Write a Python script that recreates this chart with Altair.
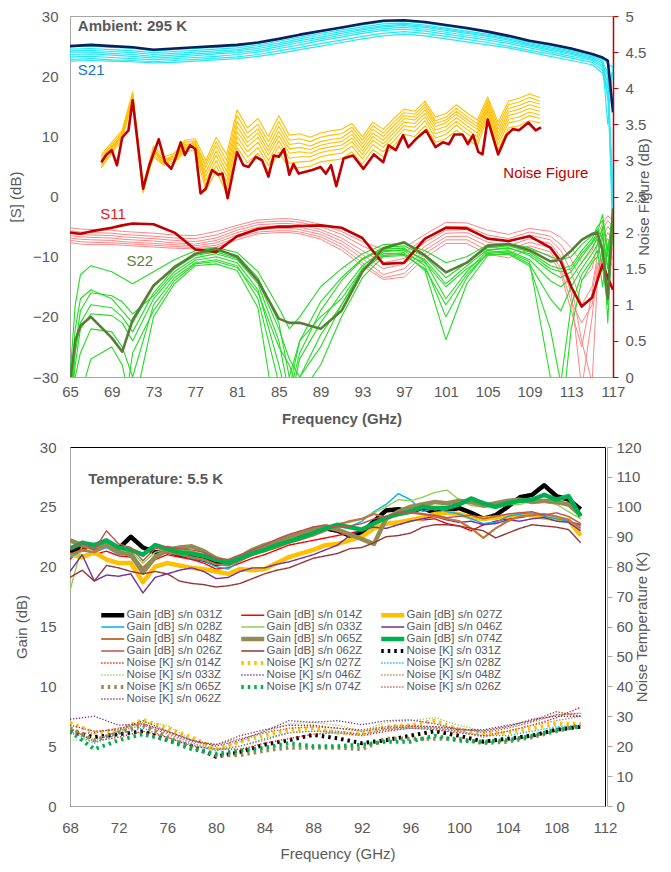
import altair as alt
import pandas as pd

FONT = "Liberation Sans"
GREY = "#595959"
AXGREY = "#a6a6a6"

# ================= TOP PANEL (ambient, 295 K) =================
F21 = [65, 67, 69, 71, 73, 75, 77, 79, 81, 83, 85, 87, 89, 91, 93, 95, 97, 99,
       101, 103, 105, 107, 109, 111, 113, 115, 116, 116.5, 117]
S21_BOLD = [25.0, 25.2, 25.0, 24.8, 24.4, 24.6, 24.8, 25.0, 25.2, 25.6, 26.2, 26.9, 27.5, 28.1,
            28.7, 29.2, 29.3, 29.0, 28.5, 28.0, 27.4, 26.7, 25.9, 25.3, 24.6, 23.7, 23.1, 22.6, 14.0]
S21_THIN = [
    [24.9, 25.0, 24.8, 24.6, 24.2, 24.4, 24.6, 24.8, 25.0, 25.5, 26.1, 26.8, 27.4, 28.0, 28.5, 29.0, 29.1, 28.8, 28.3, 27.8, 27.3, 26.6, 25.8, 25.1, 24.4, 23.6, 23.2, 22.0, 21.5],
    [24.5, 24.6, 24.4, 24.2, 23.9, 24.1, 24.3, 24.5, 24.7, 25.2, 25.8, 26.5, 27.1, 27.7, 28.2, 28.7, 28.8, 28.5, 28.0, 27.5, 27.0, 26.4, 25.6, 24.9, 24.2, 23.4, 22.8, 16.0, 21.0],
    [24.2, 24.3, 24.1, 23.9, 23.6, 23.8, 24.0, 24.2, 24.4, 24.9, 25.5, 26.2, 26.8, 27.4, 27.9, 28.4, 28.6, 28.3, 27.8, 27.3, 26.8, 26.2, 25.4, 24.7, 24.0, 23.2, 22.5, 20.5, 1.0],
    [24.0, 24.0, 23.8, 23.6, 23.3, 23.5, 23.7, 23.9, 24.2, 24.6, 25.2, 25.9, 26.5, 27.1, 27.7, 28.2, 28.4, 28.1, 27.6, 27.1, 26.6, 26.0, 25.2, 24.5, 23.8, 23.0, 22.2, 12.0, 21.8],
    [23.6, 23.7, 23.5, 23.3, 23.0, 23.2, 23.4, 23.7, 23.9, 24.3, 24.9, 25.6, 26.2, 26.8, 27.4, 27.9, 28.1, 27.8, 27.3, 26.8, 26.3, 25.7, 25.0, 24.3, 23.6, 22.8, 21.8, 20.0, -8.0],
    [23.2, 23.3, 23.1, 22.9, 22.7, 22.9, 23.1, 23.3, 23.6, 24.0, 24.6, 25.2, 25.9, 26.5, 27.1, 27.6, 27.8, 27.5, 27.0, 26.5, 26.0, 25.4, 24.7, 24.0, 23.3, 22.6, 21.5, 19.0, 20.5],
    [22.8, 22.9, 22.7, 22.6, 22.4, 22.6, 22.8, 23.0, 23.2, 23.6, 24.2, 24.8, 25.4, 26.0, 26.6, 27.1, 27.4, 27.1, 26.6, 26.1, 25.6, 25.0, 24.3, 23.7, 23.0, 22.3, 21.0, 18.0, 21.2],
    [22.5, 22.6, 22.5, 22.4, 22.2, 22.3, 22.5, 22.7, 22.9, 23.3, 23.8, 24.4, 25.0, 25.6, 26.2, 26.7, 27.0, 26.7, 26.2, 25.7, 25.2, 24.7, 24.0, 23.3, 22.6, 21.9, 20.5, 17.0, -2.0],
]

# Noise figure (dB, right axis)
F_NF_BOLD = [68.0, 68.5, 69.0, 69.5, 70.0, 70.6, 71.0, 72.0, 72.6, 73.5, 74.1, 74.7, 75.1, 75.6,
             76.0, 76.5, 77.0, 77.5, 78.0, 78.6, 79.2, 79.6, 80.1, 81.0, 81.6, 82.1, 82.8, 83.4,
             84.0, 84.5, 85.0, 85.5, 86.0, 86.4, 86.9, 88.2, 89.0, 89.5, 90.0, 90.5, 91.2, 92.1,
             93.1, 94.1, 95.0, 95.5, 96.2, 96.9, 97.4, 98.1, 99.1, 100.0, 100.7, 101.3, 101.8,
             102.6, 103.1, 103.6, 104.1, 104.5, 105.0, 106.0, 106.8, 107.4, 108.0, 108.9, 109.6, 110.1]
NF_BOLD = [2.975, 3.083, 3.142, 2.933, 3.317, 3.417, 3.833, 2.608, 2.933, 3.292, 2.975, 2.883, 3.025, 3.25,
           3.075, 3.208, 3.158, 2.542, 2.608, 2.867, 2.8, 2.817, 2.475, 3.117, 2.933, 2.908, 3.05, 3.0,
           2.775, 3.067, 3.05, 3.158, 2.8, 2.95, 2.817, 2.867, 2.908, 2.817, 2.933, 2.642, 3.025, 3.067,
           2.883, 3.083, 2.975, 3.208, 3.142, 3.35, 3.183, 3.292, 3.417, 3.183, 3.25, 3.225, 3.358,
           3.358, 3.225, 3.35, 3.117, 3.083, 3.567, 3.083, 3.35, 3.433, 3.417, 3.525, 3.417, 3.458]
F_NF = list(range(68, 111))
NF_THIN = [
    [2.90, 3.10, 3.28, 3.86, 2.58, 3.05, 2.93, 2.97, 3.12, 3.14, 2.58, 2.85, 2.55, 3.18, 2.97, 3.10, 2.85, 3.12, 2.88, 2.90, 2.92, 2.98, 3.00, 3.02, 3.12, 2.95, 3.15, 3.05, 3.20, 3.36, 3.33, 3.48, 3.25, 3.30, 3.42, 3.30, 3.20, 3.60, 3.15, 3.45, 3.48, 3.55, 3.52],
    [2.95, 3.17, 3.35, 3.88, 2.62, 3.12, 2.96, 3.03, 3.18, 3.20, 2.66, 2.93, 2.62, 3.26, 3.05, 3.18, 2.93, 3.20, 2.96, 2.98, 2.99, 3.05, 3.08, 3.10, 3.20, 3.02, 3.22, 3.12, 3.27, 3.43, 3.40, 3.55, 3.31, 3.36, 3.49, 3.37, 3.27, 3.65, 3.22, 3.52, 3.55, 3.62, 3.58],
    [3.02, 3.20, 3.30, 3.85, 2.57, 3.15, 3.02, 3.06, 3.22, 3.24, 2.72, 3.00, 2.70, 3.33, 3.12, 3.25, 3.00, 3.27, 3.03, 3.05, 3.05, 3.11, 3.14, 3.16, 3.26, 3.08, 3.28, 3.18, 3.33, 3.48, 3.46, 3.60, 3.37, 3.42, 3.54, 3.43, 3.33, 3.69, 3.28, 3.57, 3.60, 3.67, 3.63],
    [3.05, 3.22, 3.38, 3.90, 2.63, 3.18, 2.98, 3.09, 3.25, 3.27, 2.78, 3.07, 2.78, 3.40, 3.19, 3.32, 3.07, 3.34, 3.10, 3.12, 3.10, 3.16, 3.19, 3.21, 3.31, 3.13, 3.33, 3.23, 3.38, 3.53, 3.51, 3.65, 3.42, 3.47, 3.59, 3.48, 3.38, 3.73, 3.33, 3.62, 3.66, 3.72, 3.68],
    [2.92, 3.12, 3.34, 3.84, 2.60, 3.08, 2.95, 3.00, 3.15, 3.22, 2.84, 3.13, 2.85, 3.47, 3.25, 3.38, 3.13, 3.40, 3.16, 3.18, 3.15, 3.21, 3.24, 3.26, 3.36, 3.18, 3.38, 3.28, 3.43, 3.58, 3.56, 3.70, 3.47, 3.52, 3.64, 3.53, 3.43, 3.77, 3.38, 3.67, 3.71, 3.77, 3.73],
    [2.97, 3.18, 3.40, 3.92, 2.55, 3.14, 2.99, 3.05, 3.20, 3.26, 2.90, 3.20, 2.92, 3.54, 3.31, 3.44, 3.19, 3.47, 3.22, 3.24, 3.20, 3.26, 3.29, 3.31, 3.41, 3.23, 3.43, 3.33, 3.48, 3.62, 3.60, 3.74, 3.51, 3.56, 3.68, 3.57, 3.47, 3.80, 3.43, 3.72, 3.76, 3.82, 3.78],
    [3.00, 3.15, 3.36, 3.87, 2.59, 3.11, 3.00, 3.02, 3.17, 3.23, 2.95, 3.26, 3.00, 3.62, 3.38, 3.50, 3.26, 3.54, 3.28, 3.30, 3.26, 3.32, 3.35, 3.37, 3.46, 3.28, 3.48, 3.38, 3.53, 3.66, 3.64, 3.78, 3.55, 3.60, 3.72, 3.61, 3.51, 3.84, 3.48, 3.77, 3.81, 3.87, 3.82],
    [3.08, 3.25, 3.42, 3.95, 2.65, 3.20, 3.05, 3.10, 3.28, 3.30, 3.00, 3.32, 3.08, 3.70, 3.45, 3.58, 3.33, 3.62, 3.35, 3.37, 3.32, 3.38, 3.41, 3.43, 3.51, 3.33, 3.53, 3.43, 3.58, 3.71, 3.68, 3.82, 3.60, 3.65, 3.77, 3.66, 3.56, 3.88, 3.53, 3.82, 3.86, 3.92, 3.87],
]

# Reflection S11 / S22 (dB, left axis)
F_S = [65, 65.5, 66, 67, 69, 70, 71, 73, 75, 77, 79, 81, 83, 85, 86, 87, 89, 91, 93, 95, 97, 99,
       101, 103, 105, 107, 109, 111, 112, 113, 114, 115, 115.5, 116, 116.5, 117]
S11_BOLD = [-6.0, -6.1, -6.2, -5.8, -5.2, -4.8, -4.5, -4.6, -6.0, -8.8, -9.2, -6.6, -5.4, -5.0, -5.0, -4.9,
            -4.8, -5.2, -6.9, -11.2, -11.0, -7.0, -5.2, -5.3, -7.0, -7.4, -6.6, -8.5, -10.8, -15.0, -18.3,
            -16.8, -14.0, -11.3, -13.5, -15.5]
S11_THIN = [
    [-5.2, -5.3, -5.4, -5.5, -5.6, -5.8, -5.9, -6.1, -6.4, -6.5, -5.8, -4.8, -3.9, -3.7, -3.7, -3.9, -4.6, -5.8, -7.5, -8.8, -8.5, -6.3, -4.3, -4.4, -5.6, -6.3, -5.3, -5.8, -6.8, -8.5, -11.0, -9.0, -6.5, -4.5, -3.2, -4.0],
    [-5.7, -5.8, -5.9, -6.0, -6.1, -6.3, -6.4, -6.6, -6.9, -7.0, -6.4, -5.2, -4.3, -4.1, -4.1, -4.3, -5.0, -6.3, -8.2, -9.8, -9.3, -7.0, -5.0, -5.0, -6.4, -7.0, -5.9, -6.6, -8.0, -10.5, -14.0, -12.0, -8.0, -5.5, -4.0, -5.0],
    [-6.1, -6.2, -6.3, -6.4, -6.5, -6.7, -6.8, -7.0, -7.3, -7.5, -6.9, -5.6, -4.7, -4.5, -4.5, -4.7, -5.5, -6.9, -9.0, -11.0, -10.3, -7.6, -5.6, -5.5, -7.0, -7.6, -6.4, -7.2, -9.0, -12.5, -18.0, -15.0, -10.0, -6.8, -5.0, -6.0],
    [-6.5, -6.6, -6.7, -6.8, -6.9, -7.1, -7.2, -7.4, -7.7, -7.9, -7.3, -6.0, -5.1, -4.9, -4.9, -5.1, -5.9, -7.4, -9.7, -12.0, -11.2, -8.3, -6.1, -6.0, -7.6, -8.2, -7.0, -7.8, -10.0, -14.5, -24.0, -31.0, -14.0, -8.0, -6.0, -7.5],
    [-6.9, -7.0, -7.1, -7.2, -7.3, -7.5, -7.6, -7.8, -8.0, -8.2, -7.7, -6.4, -5.5, -5.3, -5.3, -5.5, -6.3, -7.9, -10.3, -13.0, -12.0, -8.9, -6.7, -6.6, -8.3, -8.8, -7.6, -8.5, -11.0, -16.0, -32.0, -20.0, -12.0, -9.0, -7.0, -9.0],
    [-7.3, -7.4, -7.5, -7.6, -7.7, -7.8, -7.9, -8.1, -8.3, -8.5, -8.1, -6.8, -5.9, -5.7, -5.7, -5.9, -6.7, -8.4, -11.0, -13.5, -12.8, -9.5, -7.2, -7.2, -9.0, -9.5, -8.2, -9.2, -12.0, -17.5, -21.0, -18.0, -13.0, -10.0, -8.0, -10.5],
    [-7.7, -7.8, -7.9, -8.0, -8.0, -8.1, -8.2, -8.4, -8.6, -8.7, -8.4, -7.2, -6.2, -6.0, -6.0, -6.2, -7.1, -8.9, -11.5, -13.8, -13.4, -10.2, -7.8, -7.8, -9.6, -10.2, -8.8, -9.8, -12.8, -19.0, -25.0, -16.0, -11.0, -12.0, -9.5, -12.0],
]
S22_BOLD = [-31.0, -24.0, -21.5, -20.0, -23.5, -25.8, -20.5, -14.8, -11.8, -9.5, -8.7, -10.0, -14.0, -20.3,
            -21.0, -21.0, -22.0, -19.0, -12.5, -8.6, -7.6, -9.8, -12.6, -11.0, -8.2, -7.9, -8.9, -10.8,
            -10.5, -9.0, -7.2, -6.2, -6.0, -9.0, -17.0, -2.0]
S22_THIN = [
    [-30, -18, -13, -11.5, -12.5, -13.5, -14.5, -12.5, -10.5, -9.0, -8.5, -9.3, -12.5, -18.5, -22, -20, -15, -12, -9.5, -8.0, -7.8, -9.0, -11.0, -10.0, -8.0, -7.8, -8.5, -10.0, -10.5, -10.0, -8.0, -6.5, -5.5, -7.0, -12.0, -3.0],
    [-34, -22, -17, -15.5, -17.0, -19, -21, -15, -11.5, -9.6, -9.0, -9.8, -13.5, -21, -30, -24, -17.5, -13.5, -10.3, -8.5, -8.2, -10.0, -13.5, -11.0, -8.5, -8.2, -9.2, -11.5, -12.0, -11.5, -9.0, -7.0, -5.0, -4.0, -10.0, -2.0],
    [-40, -25, -19, -16.0, -16.5, -17.5, -19.5, -16.5, -12.5, -10.2, -9.5, -10.5, -14.5, -24, -33, -26, -19, -14, -10.5, -8.7, -8.6, -10.8, -17.0, -12.5, -9.0, -8.5, -9.8, -12.5, -13.5, -12.5, -10.0, -7.8, -6.5, -8.5, -14.0, -4.0],
    [-36, -28, -22, -19.5, -19.8, -21, -24, -17.0, -13.0, -10.6, -10.0, -11.0, -15.5, -28, -35, -27, -21, -16, -11.5, -9.0, -9.0, -11.5, -20.0, -13.5, -9.3, -9.0, -10.5, -14.0, -15.0, -13.5, -11.0, -8.5, -7.0, -12.0, -18.0, -5.0],
    [-38, -30, -26, -22.0, -22.5, -25, -30, -18.0, -13.5, -11.0, -10.5, -11.5, -17.0, -31, -38, -30, -23, -18, -12.5, -9.5, -9.4, -12.3, -23.8, -14.5, -9.8, -9.4, -11.2, -17.0, -19.0, -15.0, -12.0, -9.5, -8.0, -5.0, -21.0, -3.5],
    [-45, -40, -33, -27.0, -25, -28, -36, -20.0, -14.5, -11.5, -11.2, -12.3, -18.5, -40, -32, -24, -20, -17, -12.0, -9.8, -9.6, -11.0, -15.0, -12.0, -9.7, -9.6, -11.5, -22.0, -31.0, -18.0, -13.0, -10.5, -9.0, -15.0, -8.0, -6.0],
    [-33, -26, -21, -18.0, -18.5, -20, -22.5, -16.0, -12.0, -9.8, -9.2, -10.3, -14.0, -22, -27, -30, -25, -18, -12.0, -9.2, -8.8, -10.5, -14.5, -11.5, -8.8, -8.6, -9.5, -12.0, -12.5, -12.0, -9.5, -7.5, -6.0, -3.0, -9.0, -2.5],
    [-50, -40, -35, -31, -33, -38, -26, -19.0, -14.0, -11.2, -10.8, -11.8, -16.0, -25, -28, -33, -28, -20, -13.5, -10.0, -9.8, -12.0, -18.0, -13.0, -9.5, -9.2, -10.8, -30.0, -38.0, -22.0, -14.0, -11.0, -10.0, -6.0, -12.0, -4.5],
]

# ================= BOTTOM PANEL (5.5 K) =================
F_GAIN = list(range(68, 111))
SERIALS = ["031Z", "014Z", "027Z", "028Z", "033Z", "046Z", "048Z", "065Z", "074Z", "026Z", "062Z"]
GAIN = {
    "031Z": [21.2, 21.6, 21.8, 21.9, 21.5, 22.5, 21.6, 21.2, 21.3, 21.0, 20.8, 20.6, 20.2, 20.4, 20.8, 21.1, 21.5, 21.9, 22.2, 22.5, 22.9, 23.2, 23.0, 22.6, 22.8, 23.8, 24.7, 24.8, 24.6, 24.9, 24.5, 24.7, 24.9, 24.5, 24.0, 24.3, 25.0, 25.8, 26.0, 26.8, 25.9, 25.6, 24.8],
    "014Z": [20.6, 21.6, 21.0, 21.3, 20.9, 20.8, 19.6, 20.6, 21.0, 20.8, 20.6, 20.3, 19.8, 19.9, 20.3, 20.7, 21.0, 21.4, 21.8, 22.0, 22.2, 22.4, 22.6, 22.8, 23.0, 23.3, 23.5, 23.7, 24.0, 23.9, 24.0, 23.6, 23.4, 23.0, 23.5, 23.8, 24.0, 24.1, 24.3, 24.0, 24.2, 23.8, 23.5],
    "027Z": [21.0, 20.8, 21.2, 20.6, 20.3, 20.3, 18.7, 20.0, 20.3, 20.1, 19.9, 19.8, 19.6, 19.4, 19.8, 19.7, 19.8, 20.3, 20.8, 21.1, 21.4, 21.8, 21.9, 22.2, 22.5, 23.2, 23.6, 23.7, 23.9, 24.1, 24.4, 24.5, 24.4, 24.1, 24.0, 24.1, 24.2, 24.4, 24.3, 24.1, 24.0, 23.9, 22.6],
    "028Z": [20.8, 21.3, 21.2, 21.6, 21.0, 21.3, 19.8, 20.8, 21.2, 21.0, 20.7, 20.5, 20.0, 19.8, 20.5, 21.0, 21.4, 21.8, 22.2, 22.5, 22.8, 23.1, 23.4, 23.3, 23.8, 24.6, 25.2, 26.1, 25.6, 24.6, 24.9, 24.6, 24.4, 24.0, 23.6, 23.7, 24.2, 24.4, 24.5, 24.2, 24.0, 23.8, 23.4],
    "033Z": [18.0, 21.8, 21.7, 22.0, 21.5, 21.3, 20.3, 21.2, 21.5, 21.4, 21.3, 21.0, 20.6, 20.5, 20.9, 21.3, 21.6, 22.0, 22.3, 22.7, 23.0, 23.3, 23.6, 23.7, 24.0, 24.5, 25.0, 25.6, 25.5, 25.8, 26.2, 26.4, 25.6, 25.1, 25.0, 24.9, 25.2, 25.2, 25.5, 25.4, 25.2, 24.6, 24.0],
    "046Z": [19.6, 21.0, 18.8, 19.3, 19.2, 19.4, 17.8, 19.1, 19.4, 19.7, 19.9, 19.6, 19.0, 19.1, 19.6, 19.9, 19.9, 20.2, 20.4, 20.7, 21.0, 21.4, 21.8, 22.6, 23.1, 23.3, 23.2, 23.5, 23.8, 24.0, 24.2, 23.9, 23.7, 23.8, 23.5, 23.6, 23.9, 23.8, 24.0, 24.1, 23.8, 23.7, 23.0],
    "048Z": [21.0, 21.4, 21.2, 21.8, 21.3, 21.0, 19.9, 20.9, 21.2, 21.0, 20.8, 20.6, 20.2, 20.1, 20.5, 21.0, 21.3, 21.6, 22.0, 22.3, 22.6, 23.0, 23.5, 23.8, 24.0, 24.4, 24.1, 24.3, 24.5, 24.4, 24.2, 24.0, 23.8, 23.2, 22.4, 23.2, 23.8, 24.2, 24.3, 24.4, 24.2, 23.9, 23.2],
    "065Z": [22.2, 21.8, 21.5, 21.8, 21.2, 21.0, 19.5, 20.8, 21.4, 21.6, 21.7, 21.3, 20.7, 20.4, 20.8, 21.4, 21.8, 22.1, 22.5, 22.8, 23.2, 23.3, 23.1, 22.7, 22.3, 21.9, 24.0, 24.6, 25.0, 25.2, 25.4, 25.3, 25.5, 25.4, 25.1, 25.3, 25.5, 25.6, 25.4, 25.5, 25.4, 25.2, 24.3],
    "074Z": [21.5, 22.0, 21.8, 22.2, 21.6, 21.4, 21.0, 21.8, 21.5, 21.2, 21.1, 20.9, 20.6, 20.3, 20.7, 21.1, 21.4, 21.8, 22.1, 22.4, 22.8, 23.2, 23.5, 23.3, 23.1, 23.6, 24.1, 24.4, 24.6, 25.0, 24.9, 24.9, 25.2, 25.7, 25.3, 25.0, 25.3, 25.5, 25.6, 26.0, 25.6, 25.9, 24.2],
    "026Z": [21.5, 22.0, 21.4, 23.0, 21.9, 21.6, 20.5, 21.5, 21.7, 21.5, 21.4, 21.2, 20.7, 20.6, 21.0, 21.4, 21.8, 22.3, 22.7, 23.0, 23.3, 23.5, 23.3, 23.4, 23.6, 24.0, 24.2, 24.5, 24.6, 24.4, 24.3, 24.1, 24.2, 24.3, 24.0, 24.2, 24.4, 24.5, 24.6, 24.3, 24.5, 24.2, 23.6],
    "062Z": [19.1, 19.7, 18.8, 20.1, 19.9, 19.6, 19.4, 19.6, 19.4, 18.8, 18.6, 18.5, 18.3, 18.4, 18.6, 19.0, 19.4, 19.7, 19.9, 20.3, 20.7, 20.9, 21.1, 21.5, 21.6, 22.0, 22.5, 22.6, 22.8, 23.3, 23.5, 23.5, 23.4, 23.2, 23.0, 22.4, 22.8, 23.2, 23.5, 23.4, 23.3, 23.1, 22.0],
}
F_NOISE = list(range(68, 111, 2))
NOISE = {
    "031Z": [25, 23, 24, 25, 22, 20, 16.5, 18, 20.5, 22, 23.8, 22.6, 21, 22, 23.5, 25, 23.5, 21.5, 22.5, 23.5, 25.5, 26.5],
    "014Z": [26, 21.5, 23, 25, 23, 20, 19, 19, 21, 22.5, 24, 24.5, 23.5, 25, 26, 25.5, 24.5, 23.5, 25, 27, 29.5, 33],
    "027Z": [27.8, 24.5, 25.5, 28.8, 26, 23, 19, 21.5, 23.5, 25.5, 26, 24.5, 24, 26.5, 27, 28.5, 25.5, 24.4, 24.5, 26, 27.5, 27.5],
    "028Z": [25, 21, 24, 26, 23, 20.5, 18.5, 20, 22.5, 24.5, 25, 24.5, 24, 25.5, 26, 26, 25, 23.5, 23.5, 25, 26.5, 27],
    "033Z": [22, 22, 25, 28, 27, 22, 19, 21.5, 24.5, 27.5, 28, 27, 25, 28, 28.5, 29.5, 27, 25, 26.5, 28.5, 30.5, 31],
    "046Z": [29, 30, 27, 27.5, 25, 22, 20, 22, 25, 28.5, 28, 28.5, 27.2, 28.5, 28.8, 27.5, 25.5, 25.1, 26.5, 29, 30, 30],
    "048Z": [26, 22, 25, 27, 24, 21, 19, 20, 22, 24.5, 25, 25, 24, 25.5, 26.5, 26, 25, 23, 25, 27, 28.5, 30],
    "065Z": [26, 22, 24.5, 27, 23, 19.5, 17, 17, 18.5, 19.5, 19.5, 19.5, 19, 22.5, 22.5, 22.5, 22.5, 21, 21.5, 23, 25, 27],
    "074Z": [25, 19, 22, 24, 22, 19, 17.5, 18.5, 19.5, 21, 20, 20, 20.5, 21.5, 21.5, 23.5, 21.8, 21.5, 22, 23.5, 25.5, 26.5],
    "026Z": [24, 24.5, 26, 27.5, 24.5, 21.5, 20.5, 22.5, 24.5, 26, 26.5, 26, 25.5, 26.5, 27, 26.5, 26, 24.5, 26, 28, 30.5, 31],
    "062Z": [27, 25, 25.5, 28.5, 25, 22, 20.5, 23.5, 25.5, 27, 27, 26, 25, 26, 26.5, 26.5, 25.5, 25.5, 27, 28.5, 31.5, 30],
}
SERIES_COLORS = {"031Z": "#000000", "014Z": "#ff0000", "027Z": "#ffc000", "028Z": "#00b0f0",
                 "033Z": "#92d050", "046Z": "#7030a0", "048Z": "#c0763e", "065Z": "#948a54",
                 "074Z": "#00b050", "026Z": "#c0504d", "062Z": "#953735"}
THICK = ["031Z", "027Z", "065Z", "074Z"]


def gain_name(s):
    return f"Gain [dB] s/n {s}"


def noise_name(s):
    return f"Noise [K] s/n {s}"


# legend order (row-major, 3 columns)
ORDER = [gain_name(s) for s in SERIALS] + [noise_name(s) for s in SERIALS]
COLS, DASHES, WIDTHS = [], [], []
for s in SERIALS:
    COLS.append(SERIES_COLORS[s])
    DASHES.append([1, 0])
    WIDTHS.append(4.5 if s in THICK else (2.2 if s == "048Z" else 1.4))
for s in SERIALS:
    COLS.append(SERIES_COLORS[s])
    DASHES.append([2.5, 4] if s in THICK else [1.3, 1.7])
    WIDTHS.append(4 if s in THICK else 1.3)


def long_df(freqs, lines, prefix):
    rows = []
    for i, vals in enumerate(lines):
        for f, v in zip(freqs, vals):
            rows.append({"freq": f, "value": v, "line": f"{prefix}{i}"})
    return pd.DataFrame(rows)


# ---------- top encodings ----------
x_top = alt.X("freq:Q", scale=alt.Scale(domain=[65, 117], nice=False, zero=False),
              axis=alt.Axis(values=list(range(65, 118, 4)), title="Frequency (GHz)",
                            titleFontWeight="bold", ticks=False, domainColor=AXGREY,
                            labelPadding=7, titlePadding=12, labelFlush=False))
y_left_top = alt.Y("value:Q", scale=alt.Scale(domain=[-30, 30], nice=False, zero=False),
                   axis=alt.Axis(values=list(range(-30, 31, 10)), title="[S] (dB)", ticks=False,
                                 domainColor=AXGREY, labelPadding=12, titlePadding=9))
y_right_top = alt.Y("value:Q", scale=alt.Scale(domain=[0, 5], nice=False, zero=False),
                    axis=alt.Axis(orient="right", values=[0, 0.5, 1, 1.5, 2, 2.5, 3, 3.5, 4, 4.5, 5],
                                  format="~g", title="Noise Figure (dB)", titleAngle=270,
                                  domainColor="#c00000", tickColor="#c00000", tickSize=5,
                                  domainWidth=1.5, labelPadding=7, titlePadding=6))


def top_lines(df, color, width, y):
    return alt.Chart(df).mark_line(color=color, strokeWidth=width, clip=True,
                                   strokeJoin="round").encode(x=x_top, y=y, detail="line:N")


TOP_TEXT = ["Ambient: 295 K", "S21", "S11", "S22", "Noise Figure"]
TOP_TEXT_F = [65.75, 65.75, 67.9, 70.4, 106.5]
TOP_TEXT_V = [28.3, 21.0, -2.9, -10.7, 3.9]
TOP_TEXT_COL = [GREY, "#1474c4", "#e8141c", "#5e7e3e", "#c00000"]
TOP_TEXT_W = ["bold", "normal", "normal", "normal", "normal"]

left_layers = [
    top_lines(long_df(F21, S21_THIN, "c"), "#29e6f2", 1.2, y_left_top),
    top_lines(long_df(F21, [S21_BOLD], "n"), "#0b1f5c", 2.6, y_left_top),
    top_lines(long_df(F_S, S11_THIN, "p"), "#ff8585", 1.0, y_left_top),
    top_lines(long_df(F_S, S22_THIN, "g"), "#22dd22", 1.1, y_left_top),
    top_lines(long_df(F_S, [S11_BOLD], "r"), "#c00000", 2.6, y_left_top),
    top_lines(long_df(F_S, [S22_BOLD], "o"), "#5b7b3a", 2.6, y_left_top),
]
for t, f, v, c, w in zip(TOP_TEXT, TOP_TEXT_F, TOP_TEXT_V, TOP_TEXT_COL, TOP_TEXT_W):
    left_layers.append(
        alt.Chart(pd.DataFrame({"freq": [f], "value": [v], "label": [t]}))
        .mark_text(align="left", baseline="middle", fontSize=15, font=FONT, color=c, fontWeight=w)
        .encode(x=x_top, y=y_left_top, text="label:N")
    )
right_layers = [
    top_lines(long_df(F_NF, NF_THIN, "y"), "#ffc000", 1.1, y_right_top),
    top_lines(long_df(F_NF_BOLD, [NF_BOLD], "b"), "#c00000", 2.6, y_right_top),
]
top = (alt.layer(alt.layer(*left_layers), alt.layer(*right_layers))
       .resolve_scale(y="independent")
       .properties(width=543, height=361, view=alt.ViewBackground(stroke="#a6a6a6")))

# ---------- bottom ----------
x_bot = alt.X("freq:Q", scale=alt.Scale(domain=[68, 112], nice=False, zero=False),
              axis=alt.Axis(values=list(range(68, 113, 4)), title="Frequency (GHz)", ticks=False,
                            domainColor=AXGREY, labelPadding=14, titlePadding=11, labelFlush=False))
y_gain = alt.Y("value:Q", scale=alt.Scale(domain=[0, 30], nice=False, zero=False),
               axis=alt.Axis(values=list(range(0, 31, 5)), title="Gain (dB)", ticks=False,
                             domainColor=AXGREY, labelPadding=14, titlePadding=10))
y_noise = alt.Y("value:Q", scale=alt.Scale(domain=[0, 120], nice=False, zero=False),
                axis=alt.Axis(orient="right", values=list(range(0, 121, 10)),
                              title="Noise Temperature (K)", titleAngle=270, tickColor=AXGREY,
                              domainColor=AXGREY, tickSize=5, offset=2, labelPadding=4,
                              titlePadding=8))

LEG = alt.Legend(title=None, orient="none", legendX=28, legendY=163, columns=3,
                 direction="horizontal", symbolType="M-4.6,0H4.6", symbolSize=25,
                 symbolOffset=9, labelFontSize=11.5, labelFont=FONT, labelColor=GREY,
                 clipHeight=10, rowPadding=0, columnPadding=15, labelOffset=8,
                 labelLimit=200, symbolLimit=0)
enc_color = alt.Color("series:N", scale=alt.Scale(domain=ORDER, range=COLS), legend=LEG)
enc_dash = alt.StrokeDash("series:N", scale=alt.Scale(domain=ORDER, range=DASHES), legend=LEG)
enc_width = alt.StrokeWidth("series:N", scale=alt.Scale(type="ordinal", domain=ORDER, range=WIDTHS),
                            legend=LEG)

gain_rows = [{"freq": f, "value": v, "series": gain_name(s)}
             for s in SERIALS for f, v in zip(F_GAIN, GAIN[s])]
noise_rows = [{"freq": f, "value": v, "series": noise_name(s)}
              for s in SERIALS for f, v in zip(F_NOISE, NOISE[s])]

gain_lines = alt.Chart(pd.DataFrame(gain_rows)).mark_line(clip=True, strokeJoin="round").encode(
    x=x_bot, y=y_gain, color=enc_color, strokeDash=enc_dash, strokeWidth=enc_width)
temp_text = (alt.Chart(pd.DataFrame({"freq": [69.5], "value": [27.3], "label": ["Temperature: 5.5 K"]}))
             .mark_text(align="left", baseline="middle", fontSize=15, font=FONT, color=GREY,
                        fontWeight="bold")
             .encode(x=x_bot, y=y_gain, text="label:N"))
noise_lines = alt.Chart(pd.DataFrame(noise_rows)).mark_line(clip=True).encode(
    x=x_bot, y=y_noise, color=enc_color, strokeDash=enc_dash, strokeWidth=enc_width)

bottom = (alt.layer(alt.layer(gain_lines, temp_text), noise_lines)
          .resolve_scale(y="independent")
          .properties(width=535, height=359, view=alt.ViewBackground(stroke="#000000")))

chart = (alt.vconcat(top, bottom, spacing=12)
         .resolve_scale(color="independent", strokeDash="independent", strokeWidth="independent")
         .properties(padding={"left": 0, "top": 0, "right": 0, "bottom": 0})
         .configure(font=FONT)
         .configure_axis(labelFontSize=15, titleFontSize=15, labelColor=GREY, titleColor=GREY,
                         titleFontWeight="normal", grid=False, labelFont=FONT, titleFont=FONT))

chart.save("out.html", embed_options={"renderer": "svg", "actions": False})
